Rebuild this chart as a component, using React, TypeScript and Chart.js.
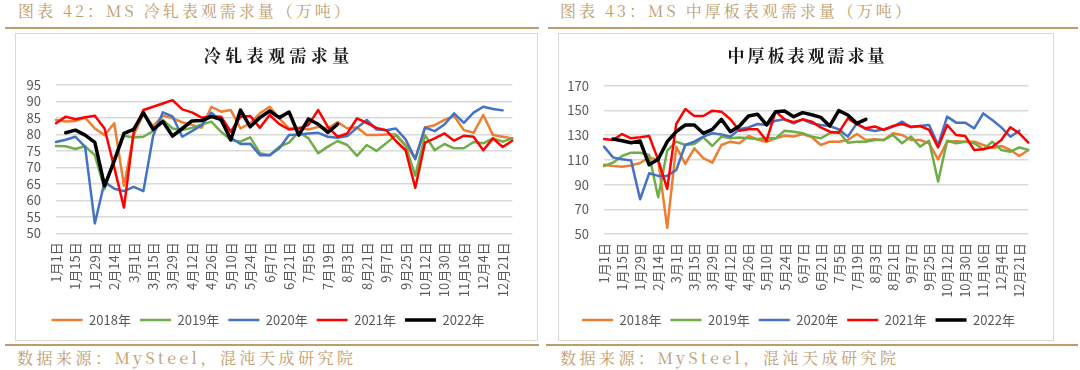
import React, { useEffect, useRef } from 'react';
import { Chart, registerables } from 'chart.js';

Chart.register(...registerables);

// ---------- data ----------
const categories = [
  '1月1日', '1月8日', '1月15日', '1月22日', '1月29日', '2月5日', '2月14日', '2月21日',
  '3月1日', '3月8日', '3月15日', '3月22日', '3月29日', '4月5日', '4月12日', '4月19日',
  '4月26日', '5月3日', '5月10日', '5月17日', '5月24日', '5月31日', '6月7日', '6月14日',
  '6月21日', '6月28日', '7月5日', '7月12日', '7月19日', '7月26日', '8月3日', '8月10日',
  '8月21日', '8月28日', '9月7日', '9月14日', '9月25日', '10月5日', '10月12日', '10月19日',
  '10月30日', '11月6日', '11月16日', '11月23日', '12月4日', '12月11日', '12月21日', '12月28日',
];

const yearLabels = ['2018年', '2019年', '2020年', '2021年', '2022年'];

const coldRolledTicks = [50, 55, 60, 65, 70, 75, 80, 85, 90, 95];
const plateTicks = [50, 70, 90, 110, 130, 150, 170];

const coldRolled2018 = [
  84.4, 83.9, 84.1, 85.1, 81.8, 79.8, 83.4, 64.4, 79.8, 86.2,
  82.5, 85.7, 84.9, 83.7, 82.9, 82, 88.4, 86.9, 87.4, 81.8,
  83.4, 86.4, 88.4, 84.9, 81.8, 82, 81.5, 82.3, 81.8, 83.8,
  81.8, 82.1, 79.8, 79.8, 80, 80, 76.8, 72.7, 82.1, 82.8,
  84.4, 85.6, 81.3, 80.5, 85.9, 79.8, 79.3, 78.8,
];
const coldRolled2019 = [
  76.5, 76.4, 75.6, 76.4, 73.7, 63.4, 72.7, 79.6, 79.1, 79.3,
  81, 84.4, 81.8, 81.3, 82, 83, 83.9, 80.8, 78.3, 77.8,
  79.1, 74.3, 73.7, 76.3, 77.5, 80.8, 78.8, 74.3, 76.3, 78,
  76.8, 73.5, 76.8, 75, 77.3, 79.8, 76.5, 67.5, 79.8, 75.2,
  77.1, 75.8, 75.8, 77.7, 77.3, 78.8, 77.8, 78.8,
];
const coldRolled2020 = [
  77.7, 78.4, 79.3, 76.2, 53, 65.6, 63.5, 62.8, 64.1, 62.8,
  79.5, 86.7, 85.5, 79.3, 81, 82.8, 86.6, 84, 79, 77.1,
  77.2, 73.7, 73.7, 75.8, 79.8, 80, 80.3, 80.5, 79.3, 79,
  79.5, 82, 84.4, 81.5, 81.3, 81.8, 78.5, 72.5, 82.1, 81,
  83, 86.4, 83.5, 86.6, 88.4, 87.7, 87.3, null,
];
const coldRolled2021 = [
  83.4, 85.4, 84.6, 85.2, 85.7, 81.8, 70, 57.8, 80.8, 87.4,
  88.4, 89.4, 90.4, 87.6, 86.7, 85.1, 85.5, 85.4, 80.8, 85.4,
  85.6, 82, 85.9, 83.1, 81.5, 81.8, 82.9, 87.4, 82.3, 79.3,
  80.3, 84.9, 83.5, 82, 81.3, 78, 75.2, 63.8, 77.5, 78.8,
  80.3, 78.1, 79.6, 79.3, 75.2, 78.8, 76.2, 78.1,
];
const coldRolled2022 = [
  null, 80.5, 81.3, 79.8, 77.6, 64.4, 72, 80.3, 81.5, 86.6,
  81.5, 83.9, 79.5, 81.8, 84.1, 84.2, 85.4, 84.6, 78.3, 87.4,
  82.3, 85.1, 87.1, 85.1, 86.8, 79.8, 84.7, 83.1, 80.6, 83.1,
  null, null, null, null, null, null, null, null, null, null,
  null, null, null, null, null, null, null, null,
];

const plate2018 = [
  106, 105, 104.5, 105.5, 107.5, 112, 110, 55, 120.6, 106.7,
  119.3, 111.3, 107.7, 122, 124.7, 123.4, 129.3, 126.5, 124.5, 127.4,
  129.5, 128.8, 130.9, 128.5, 122, 124.7, 124.7, 126.1, 130.9, 126.1,
  126.6, 126.1, 131.5, 130.1, 126.1, 126.1, 123.4, 110.4, 124.7, 125,
  124.7, 124.7, 122, 119.5, 121.2, 118, 113.1, 118,
];
const plate2019 = [
  105, 107.7, 113.1, 115.8, 115.8, 114, 79.7, 117.4, 124.7, 122,
  122.8, 128.2, 121.2, 128.8, 127.4, 128, 127.4, 126.9, 127.4, 127.4,
  133.6, 132.8, 131.5, 128.8, 127.4, 131.5, 132.8, 123.9, 124.7, 124.7,
  126.1, 126.1, 130.1, 123.4, 128.8, 120.7, 125.5, 92.4, 125.5, 123.4,
  124.7, 123.4, 118.5, 124.7, 118, 116.6, 120.1, 118,
];
const plate2020 = [
  120.7, 112, 110.4, 109.4, 78.1, 99.1, 97, 97, 101.8, 122,
  124.7, 128.8, 131.5, 130.6, 128.8, 134.7, 136.3, 139, 138.2, 141.7,
  142.8, 139.5, 142.8, 139.5, 138.2, 137.4, 134.7, 128.8, 139.5, 134.7,
  133.3, 134.7, 136.8, 140.9, 136.3, 137.4, 138.2, 122, 145, 140.1,
  140.1, 135.5, 147.6, 142.2, 136.3, 128.7, 133.6, null,
];
const plate2021 = [
  126.9, 126.1, 130.9, 127.4, 128.2, 129.3, 110, 86.5, 139, 151.1,
  145.5, 145.5, 149.8, 149, 142.8, 133.6, 134.7, 134.7, 125.5, 149,
  142.8, 140.4, 142.8, 140.9, 136.3, 132.8, 132, 143.6, 138.7, 135.5,
  137, 134.2, 137.4, 139, 136.8, 137.4, 134.2, 120.1, 138.2, 130.1,
  129.3, 118, 118.5, 120.5, 126, 136.3, 131.5, 124,
];
const plate2022 = [
  null, 126.9, 125.5, 123.9, 125.2, 106, 110.5, 124.7, 132.8, 138.2,
  138.2, 131.5, 134.7, 142.8, 132.8, 137.4, 145.5, 146.9, 138.2, 149,
  149.5, 144.9, 148.2, 146.5, 144.4, 137.4, 149.8, 146.3, 139.5, 142.8,
  null, null, null, null, null, null, null, null, null, null,
  null, null, null, null, null, null, null, null,
];

// ---------- styles ----------
const yearColors = ['#ED7D31', '#70AD47', '#4472C4', '#FF0000', '#000000'];
const SANS = "'Noto Sans CJK SC', 'Noto Sans', sans-serif";
const SERIF = "'Noto Serif CJK SC', 'Noto Serif SC', 'Noto Sans CJK SC', serif";
const TAN = '#BE9C6C';
const AXIS_TEXT = '#595959';
const GRID = '#D9D9D9';

type Series = (number | null)[];

interface ChartProps {
  series: Series[];
  ticks: number[];
  width: number;
  height: number;
  padTop: number;
  padRight: number;
  yWidth: number;
  xHeight: number;
}

function LineChart(props: ChartProps) {
  const ref = useRef<HTMLCanvasElement | null>(null);
  useEffect(() => {
    const canvas = ref.current;
    if (!canvas) return;
    const { series, ticks } = props;
    const chart = new Chart(canvas, {
      type: 'line',
      data: {
        labels: categories,
        datasets: series.map((d, i) => ({
          label: yearLabels[i],
          data: d,
          borderColor: yearColors[i],
          backgroundColor: yearColors[i],
          borderWidth: i === 4 ? 3.5 : 2.5,
          pointRadius: 0,
          pointHoverRadius: 0,
          tension: 0,
          fill: false,
          order: 5 - i,
          borderJoinStyle: 'round' as const,
          borderCapStyle: 'round' as const,
        })),
      },
      options: {
        animation: false,
        responsive: false,
        maintainAspectRatio: false,
        devicePixelRatio: 1,
        events: [],
        layout: { padding: { top: props.padTop, right: props.padRight, bottom: 3.5, left: 0 } },
        plugins: {
          title: { display: false },
          tooltip: { enabled: false },
          legend: {
            position: 'bottom',
            labels: {
              usePointStyle: true,
              pointStyle: 'line',
              pointStyleWidth: 31,
              padding: 9,
              color: AXIS_TEXT,
              font: { family: SANS, size: 13 },
              sort: (a: any, b: any) => a.datasetIndex - b.datasetIndex,
            },
          },
        },
        scales: {
          x: {
            type: 'category',
            offset: false,
            grid: { display: false, drawTicks: false },
            border: { display: false },
            ticks: {
              autoSkip: false,
              maxRotation: 90,
              minRotation: 90,
              padding: 9,
              color: AXIS_TEXT,
              font: { family: SANS, size: 13 },
              callback: (_v: any, i: number) => (i % 2 === 0 ? categories[i] : ''),
            },
            afterFit: (s: any) => {
              s.height = props.xHeight;
            },
          },
          y: {
            min: ticks[0],
            max: ticks[ticks.length - 1],
            grid: { color: GRID, lineWidth: 1.5, drawTicks: false },
            border: { display: false },
            ticks: {
              autoSkip: false,
              stepSize: ticks[1] - ticks[0],
              padding: 15,
              color: AXIS_TEXT,
              font: { family: SANS, size: 13 },
            },
            afterFit: (s: any) => {
              s.width = props.yWidth;
            },
          },
        },
      },
    });
    return () => chart.destroy();
  }, []);
  return (
    <canvas
      ref={ref}
      width={props.width}
      height={props.height}
      style={{ position: 'absolute', left: 0, top: 0, width: props.width, height: props.height }}
    />
  );
}

const abs = (s: React.CSSProperties): React.CSSProperties => ({ position: 'absolute', ...s });

export default function App() {
  return (
    <div style={abs({ left: 0, top: 0, width: 1080, height: 370, background: '#fff', overflow: 'hidden' })}>
      {/* captions */}
      <div style={abs({ left: 18, top: 3, fontFamily: SERIF, fontSize: 16, lineHeight: '16px', letterSpacing: 3, color: TAN, whiteSpace: 'nowrap' })}>
        图表 42：MS 冷轧表观需求量（万吨）
      </div>
      <div style={abs({ left: 560, top: 3, fontFamily: SERIF, fontSize: 16, lineHeight: '16px', letterSpacing: 3, color: TAN, whiteSpace: 'nowrap' })}>
        图表 43：MS 中厚板表观需求量（万吨）
      </div>
      <div style={abs({ left: 5, top: 27, width: 534, height: 2, background: TAN })} />
      <div style={abs({ left: 548, top: 27, width: 530, height: 2, background: TAN })} />

      {/* left chart */}
      <div style={abs({ left: 15, top: 33, width: 521, height: 306, border: `1px solid ${GRID}` })}>
        <LineChart
          series={[coldRolled2018, coldRolled2019, coldRolled2020, coldRolled2021, coldRolled2022]}
          ticks={coldRolledTicks}
          width={521}
          height={306}
          padTop={51}
          padRight={17}
          yWidth={40}
          xHeight={71.2}
        />
        <div style={abs({ left: 0, top: 12, width: 521, textAlign: 'center', fontFamily: SERIF, fontWeight: 700, fontSize: 17, lineHeight: '17px', letterSpacing: 4.4, paddingLeft: 4.4, boxSizing: 'border-box', color: '#1a1a1a', whiteSpace: 'nowrap' })}>
          冷轧表观需求量
        </div>
      </div>

      {/* right chart */}
      <div style={abs({ left: 558, top: 33, width: 494, height: 306, border: `1px solid ${GRID}` })}>
        <LineChart
          series={[plate2018, plate2019, plate2020, plate2021, plate2022]}
          ticks={plateTicks}
          width={494}
          height={306}
          padTop={51.7}
          padRight={15}
          yWidth={45}
          xHeight={70.5}
        />
        <div style={abs({ left: 0, top: 12, width: 494, textAlign: 'center', fontFamily: SERIF, fontWeight: 700, fontSize: 17, lineHeight: '17px', letterSpacing: 3, paddingLeft: 3, boxSizing: 'border-box', color: '#1a1a1a', whiteSpace: 'nowrap' })}>
          中厚板表观需求量
        </div>
      </div>

      {/* sources */}
      <div style={abs({ left: 5, top: 344, width: 534, height: 2, background: TAN })} />
      <div style={abs({ left: 546, top: 344, width: 532, height: 2, background: TAN })} />
      <div style={abs({ left: 17, top: 350, fontFamily: SERIF, fontSize: 16, lineHeight: '16px', letterSpacing: 3.5, color: TAN, whiteSpace: 'nowrap' })}>
        数据来源：MySteel，混沌天成研究院
      </div>
      <div style={abs({ left: 560, top: 350, fontFamily: SERIF, fontSize: 16, lineHeight: '16px', letterSpacing: 3.5, color: TAN, whiteSpace: 'nowrap' })}>
        数据来源：MySteel，混沌天成研究院
      </div>
    </div>
  );
}
